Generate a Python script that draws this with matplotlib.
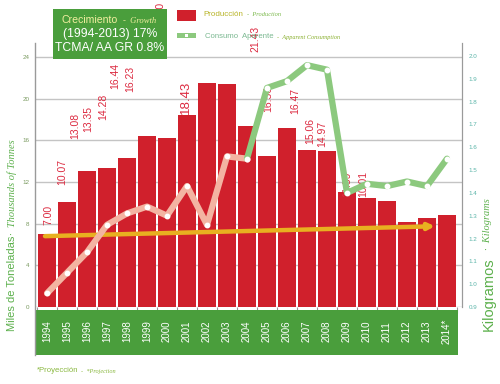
import matplotlib
matplotlib.use("Agg")
import matplotlib.pyplot as plt
from matplotlib.patches import Rectangle
from matplotlib.lines import Line2D
import numpy as np

years = ["1994", "1995", "1996", "1997", "1998", "1999", "2000", "2001", "2002", "2003",
         "2004", "2005", "2006", "2007", "2008", "2009", "2010", "2011", "2012", "2013", "2014*"]
production = [7.00, 10.07, 13.08, 13.35, 14.28, 16.44, 16.23, 18.43, 21.50, 21.43,
              17.40, 14.50, 17.20, 15.06, 14.97, 11.05, 10.51, 10.20, 8.20, 8.50, 8.80]
consumption = [0.96, 1.05, 1.14, 1.26, 1.31, 1.34, 1.30, 1.43, 1.26, 1.56,
               1.55, 1.86, 1.89, 1.96, 1.94, 1.40, 1.44, 1.43, 1.45, 1.43, 1.55]
trend_vals = [6.8, 7.75]

# value labels as they sit (scattered) in the original
label_text = ["7.00", "10.07", "13.08", "13.35", "14.28", "16.44", "16.23", "21.50", "18.43",
              "21.43", "16.56", "16.47", "15.06", "14.97", "11.39", "10.01"]
label_x = [0.05, 0.75, 1.4, 2.05, 2.8, 3.4, 4.15, 5.65, 6.95, 10.4, 11.05, 12.4, 13.15, 13.75, 15.0, 15.8]
label_y = [8.8, 13.0, 17.4, 18.0, 19.2, 22.2, 21.9, 28.0, 20.1, 25.7, 20.0, 19.8, 16.9, 16.6, 11.8, 11.8]

SANS = ["Liberation Sans", "DejaVu Sans"]
SERIF = ["Liberation Serif", "DejaVu Serif"]
GREEN = "#4a9e3c"
RED = "#d0202c"

W, H = 500, 384
def fx(x):
    return x / W
def fy(y):
    return 1 - y / H

fig = plt.figure(figsize=(5, 3.84), dpi=100)

ax = fig.add_axes([fx(35), fy(307), (462 - 35) / W, (307 - 43) / H])
x = np.arange(len(years))
ax.set_xlim(-0.6, 20.75)
ax.set_ylim(0, 25.34)
ax.set_yticks(np.arange(0, 25, 4))
ax.set_yticklabels([str(v) for v in range(0, 25, 4)], fontsize=4.5, color="#7a9a60", family=SANS)
ax.tick_params(axis="y", length=0, pad=4)
ax.grid(axis="y", color="#c4c4c4", lw=1)
ax.set_axisbelow(True)
ax.set_xticks(np.arange(-0.5, 21, 1))
ax.set_xticklabels([])
ax.tick_params(axis="x", length=4, color="#9a9a9a", width=0.8)
for s in ["top", "bottom", "left"]:
    ax.spines[s].set_visible(False)
ax.spines["right"].set_color("#9a9a9a")

ax.bar(x, production, width=0.9, color=RED, zorder=2)
for t, lx, ly in zip(label_text, label_x, label_y):
    fs = 9.5 if t == "18.43" else 7.5
    ax.text(lx, ly, t, rotation=90, ha="center", va="center", fontsize=fs,
            color="#dc2a40", family=SANS, zorder=3, clip_on=False)

ax.annotate("", xy=(19 + 0.4, trend_vals[1]), xytext=(0 - 0.1, trend_vals[0]),
            arrowprops=dict(arrowstyle="-|>", color="#e8b020", lw=3.2,
                            mutation_scale=9, shrinkA=0, shrinkB=0), zorder=4)

ax2 = ax.twinx()
ax2.set_ylim(0.9, 2.057)
ax2.set_yticks(np.round(np.arange(0.9, 2.01, 0.1), 1))
ax2.set_yticklabels([f"{v:.1f}" for v in np.arange(0.9, 2.01, 0.1)], fontsize=4.5,
                    color="#5ab4a8", family=SANS)
ax2.tick_params(axis="y", length=0, pad=5)
for s in ["top", "bottom", "left"]:
    ax2.spines[s].set_visible(False)
ax2.spines["right"].set_color("#9a9a9a")

ax2.plot(x[:11], consumption[:11], color="#f3b4a2", lw=4.5, solid_joinstyle="round",
         solid_capstyle="round", marker="o", markersize=3.2, markerfacecolor="white",
         markeredgecolor="white", zorder=5)
ax2.plot(x[10:], consumption[10:], color="#8cc97e", lw=4.5, solid_joinstyle="round",
         solid_capstyle="round", marker="o", markersize=3.2, markerfacecolor="white",
         markeredgecolor="white", zorder=5)

# green band with the years
band = fig.add_axes([fx(35), fy(355), (458 - 35) / W, 45 / H])
band.set_facecolor(GREEN)
band.set_xlim(-0.6, 20.55)
band.set_ylim(0, 1)
band.set_xticks([])
band.set_yticks([])
for s in band.spines.values():
    s.set_visible(False)
for i, yr in enumerate(years):
    band.text(i, 0.53, yr, rotation=90, ha="center", va="center", color="white",
              fontsize=7, family=SANS)

fig.add_artist(Line2D([fx(35), fx(35)], [fy(43), fy(355)], color="#9a9a9a", lw=1))

# axis titles
fig.text(fx(12), fy(331), "Miles de Toneladas", rotation=90, ha="center", va="bottom",
         fontsize=8, color="#5cb04c", family=SANS)
fig.text(fx(12), fy(235), "·  Thousands of Tonnes", rotation=90, ha="center", va="bottom",
         fontsize=7.5, color="#5cb04c", family=SERIF, style="italic")
fig.text(fx(489), fy(331), "Kilogramos", rotation=90, ha="center", va="bottom",
         fontsize=10.5, color="#5cb04c", family=SANS)
fig.text(fx(488), fy(250), "·  Kilograms", rotation=90, ha="center", va="bottom",
         fontsize=7.5, color="#5cb04c", family=SERIF, style="italic")

# growth box
fig.add_artist(Rectangle((fx(53), fy(59)), 114 / W, 50 / H, transform=fig.transFigure,
                         facecolor=GREEN, edgecolor="none", zorder=6))
fig.text(fx(61), fy(20), "Crecimiento", ha="left", va="center", fontsize=7.6,
         color="#f2eea0", family=SANS, zorder=7)
fig.text(fx(123), fy(21), "-  Growth", ha="left", va="center", fontsize=6.2,
         color="#f2eea0", family=SERIF, style="italic", zorder=7)
fig.text(fx(110), fy(34), "(1994-2013) 17%", ha="center", va="center", fontsize=8.8,
         color="white", family=SANS, zorder=7)
fig.text(fx(110), fy(48), "TCMA/ AA GR 0.8%", ha="center", va="center", fontsize=8.8,
         color="white", family=SANS, zorder=7)

# legend
fig.add_artist(Rectangle((fx(177), fy(21)), 19 / W, 11 / H, transform=fig.transFigure,
                         facecolor=RED, edgecolor="none"))
fig.text(fx(203), fy(15), "Producción", ha="left", va="center", fontsize=5.8,
         color="#b8b428", family=SANS)
fig.text(fx(247), fy(15), "-  Production", ha="left", va="center", fontsize=4.6,
         color="#7ab84a", family=SERIF, style="italic")
fig.add_artist(Rectangle((fx(177), fy(38)), 19 / W, 5 / H, transform=fig.transFigure,
                         facecolor="#8cc97e", edgecolor="none"))
fig.add_artist(Rectangle((fx(185), fy(37)), 3 / W, 3 / H, transform=fig.transFigure,
                         facecolor="white", edgecolor="none"))
fig.text(fx(205), fy(37), "Consumo  Aparente", ha="left", va="center", fontsize=5.6,
         color="#7ab890", family=SANS)
fig.text(fx(277), fy(38), "-  Apparent Consumption", ha="left", va="center", fontsize=4.5,
         color="#8ab030", family=SERIF, style="italic")

# footnote
fig.text(fx(37), fy(370), "*Proyección", ha="left", va="center", fontsize=5.6,
         color="#8ab840", family=SANS)
fig.text(fx(81), fy(371), "-  *Projection", ha="left", va="center", fontsize=4.5,
         color="#8ab840", family=SERIF, style="italic")

fig.savefig("out.png", dpi=100)
